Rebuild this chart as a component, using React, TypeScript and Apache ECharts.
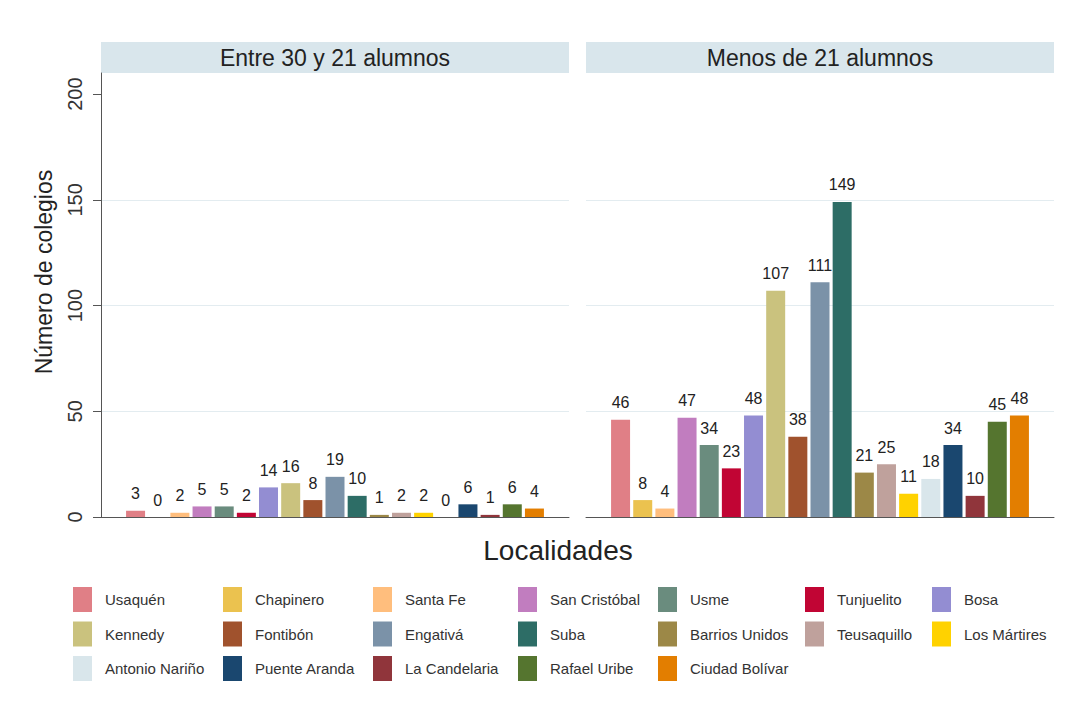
import React, { useEffect, useRef } from "react";
import * as echarts from "echarts";

const localidades = [
  "Usaquén", "Chapinero", "Santa Fe", "San Cristóbal", "Usme", "Tunjuelito", "Bosa",
  "Kennedy", "Fontibón", "Engativá", "Suba", "Barrios Unidos", "Teusaquillo", "Los Mártires",
  "Antonio Nariño", "Puente Aranda", "La Candelaria", "Rafael Uribe", "Ciudad Bolívar",
];

const colores = [
  "#e07f86", "#ebc24f", "#ffbe7d", "#c17dbf", "#6a8c7e", "#c10534", "#938dd2",
  "#cac27e", "#a0522d", "#7b92a8", "#2d6d66", "#9c8847", "#bfa19c", "#ffd200",
  "#d9e6eb", "#1a476f", "#90353b", "#55752f", "#e37e00",
];

const paneles = ["Entre 30 y 21 alumnos", "Menos de 21 alumnos"];

const entre30y21 = [3, 0, 2, 5, 5, 2, 14, 16, 8, 19, 10, 1, 2, 2, 0, 6, 1, 6, 4];
const menosDe21 = [46, 8, 4, 47, 34, 23, 48, 107, 38, 111, 149, 21, 25, 11, 18, 34, 10, 45, 48];

const yTicks = [0, 50, 100, 150, 200];

const FONT = "'Liberation Sans', Arial, sans-serif";

export default function App() {
  const ref = useRef<HTMLDivElement>(null);

  useEffect(() => {
    if (!ref.current) return;
    const chart = echarts.init(ref.current, undefined, { renderer: "svg" });

    const gridLefts = [101, 586];
    const gridW = 468;
    const gridTop = 73;
    const gridH = 444;
    const valores = [entre30y21, menosDe21];

    const grids = gridLefts.map((l) => ({ left: l, top: gridTop, width: gridW, height: gridH, containLabel: false }));

    const xAxes = gridLefts.map((_, k) => ({
      type: "value",
      gridIndex: k,
      min: -1.56,
      max: localidades.length - 1 + 1.56,
      axisLine: { show: true, onZero: false, lineStyle: { color: "#555", width: 1 } },
      axisTick: { show: false },
      axisLabel: { show: false },
      splitLine: { show: false },
    }));

    const yAxes = gridLefts.map((_, k) => ({
      type: "value",
      gridIndex: k,
      min: 0,
      max: 210,
      interval: 50,
      axisLine: { show: k === 0, onZero: false, lineStyle: { color: "#555", width: 1 } },
      axisTick: { show: k === 0, length: 8, lineStyle: { color: "#555" }, customValues: yTicks },
      axisLabel: {
        show: k === 0,
        rotate: 90,
        margin: 16,
        fontSize: 20,
        color: "#333",
        fontFamily: FONT,
        customValues: yTicks,
        formatter: (v: number) => (yTicks.includes(v) ? String(v) : ""),
      },
      splitLine: { show: true, showMinLine: false, showMaxLine: false, lineStyle: { color: "#e3ecf0", width: 1 } },
    }));

    const series: any[] = [];
    valores.forEach((vals, k) => {
      localidades.forEach((name, i) => {
        series.push({
          type: "bar",
          name,
          xAxisIndex: k,
          yAxisIndex: k,
          data: [[i, vals[i]]],
          barWidth: 19,
          barGap: "-100%",
          itemStyle: { color: colores[i] },
          label: {
            show: true,
            position: "top",
            distance: 9,
            fontSize: 16,
            color: "#222",
            fontFamily: FONT,
            formatter: (p: any) => String(p.value[1]),
          },
        });
      });
    });

    const colLefts = [73, 223, 373, 518, 658, 805, 932];
    const legends = colLefts.map((left, c) => ({
      orient: "vertical",
      left,
      top: 587,
      padding: 0,
      itemWidth: 19,
      itemHeight: 25,
      itemGap: 9.5,
      icon: "rect",
      selectedMode: false,
      textStyle: { fontSize: 15, color: "#333", fontFamily: FONT, padding: [0, 0, 0, 8] },
      data: localidades.filter((_, i) => i % 7 === c),
    }));

    const graphics: any[] = [];
    paneles.forEach((t, k) => {
      graphics.push({
        type: "rect",
        shape: { x: gridLefts[k], y: 42, width: gridW, height: 31 },
        style: { fill: "#d9e6ec" },
        silent: true,
      });
      graphics.push({
        type: "text",
        x: gridLefts[k] + gridW / 2,
        y: 57.5,
        style: { text: t, fontSize: 23, fill: "#222", fontFamily: FONT, textAlign: "center", textVerticalAlign: "middle" },
        silent: true,
      });
    });
    graphics.push({
      type: "text",
      x: 44,
      y: 272,
      rotation: Math.PI / 2,
      style: { text: "Número de colegios", fontSize: 23, fill: "#222", fontFamily: FONT, textAlign: "center", textVerticalAlign: "middle" },
      silent: true,
    });
    graphics.push({
      type: "text",
      x: 558,
      y: 550,
      style: { text: "Localidades", fontSize: 28, fill: "#222", fontFamily: FONT, textAlign: "center", textVerticalAlign: "middle" },
      silent: true,
    });

    chart.setOption({
      animation: false,
      backgroundColor: "#ffffff",
      textStyle: { fontFamily: FONT },
      grid: grids,
      xAxis: xAxes,
      yAxis: yAxes,
      legend: legends,
      series,
      graphic: graphics,
    });

    return () => chart.dispose();
  }, []);

  return (
    <div
      ref={ref}
      style={{ position: "fixed", left: 0, top: 0, width: 1074, height: 721, background: "#fff" }}
    />
  );
}
